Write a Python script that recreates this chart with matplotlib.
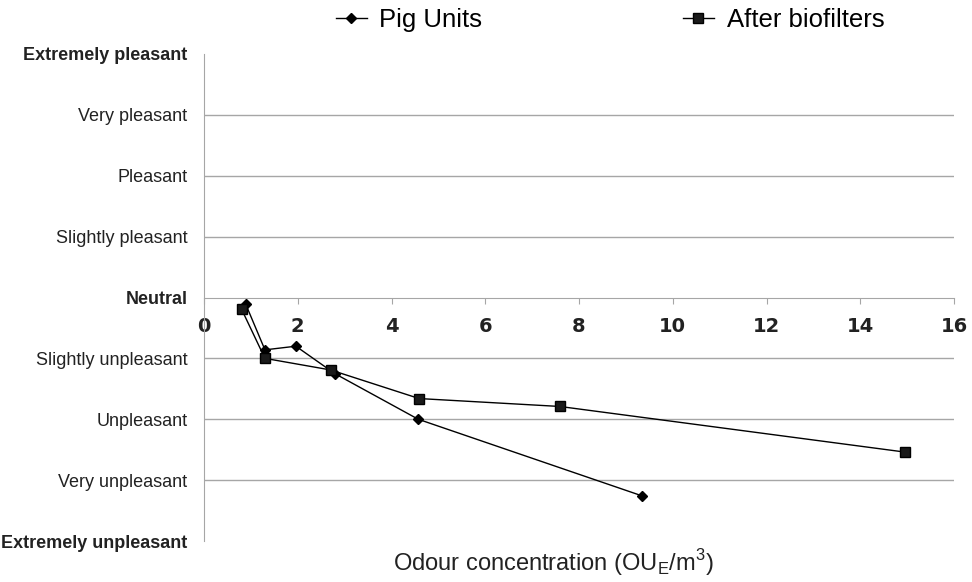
import matplotlib.pyplot as plt
import numpy as np

plt.rcParams['font.family'] = ['Liberation Sans', 'DejaVu Sans']

# odour concentration (OU_E/m3) vs hedonic tone
pig_x = [0.89, 1.30, 1.96, 2.79, 4.57, 9.35]
pig_y = [-0.11, -0.86, -0.80, -1.25, -2.0, -3.26]
bio_x = [0.80, 1.30, 2.70, 4.59, 7.59, 14.96]
bio_y = [-0.19, -1.0, -1.19, -1.66, -1.79, -2.54]

levels = [4, 3, 2, 1, 0, -1, -2, -3, -4]
level_names = ['Extremely pleasant', 'Very pleasant', 'Pleasant', 'Slightly pleasant',
               'Neutral', 'Slightly unpleasant', 'Unpleasant', 'Very unpleasant',
               'Extremely unpleasant']
bold_names = ['Extremely pleasant', 'Neutral', 'Extremely unpleasant']
x_ticks = [0, 2, 4, 6, 8, 10, 12, 14, 16]

fig = plt.figure(figsize=(9.72, 5.82), dpi=100)
ax = fig.add_axes([204/972, 1-541/582, (954-204)/972, (541-54)/582])

# x axis sits on the neutral line (do this first, it resets the ticks)
ax.spines['bottom'].set_position(('data', 0))
ax.spines['bottom'].set_color('#a6a6a6')
ax.spines['left'].set_color('#a6a6a6')
ax.spines['top'].set_visible(False)
ax.spines['right'].set_visible(False)

# gridlines at each level except the extremes and neutral
for lv in levels:
    if lv in (4, 0, -4):
        continue
    ax.axhline(lv, color='#a6a6a6', lw=1.0, zorder=1)

ax.plot(pig_x, pig_y, color='black', lw=1.0, marker='D', ms=5.5,
        markerfacecolor='black', label='Pig Units', zorder=3)
ax.plot(bio_x, bio_y, color='black', lw=1.0, marker='s', ms=7,
        markerfacecolor='#1a1a1a', label='After biofilters', zorder=3)

ax.set_xlim(0, 16)
ax.set_ylim(-4, 4)
ax.tick_params(axis='y', length=0, pad=12)
ax.tick_params(axis='x', direction='out', length=4, color='#a6a6a6', pad=10)
ax.set_xticks(x_ticks)
ax.set_xticklabels([str(t) for t in x_ticks], fontsize=14, fontweight='bold',
                   family='DejaVu Sans', color='#222222')
ax.set_yticks(levels)
ax.set_yticklabels(level_names, fontsize=13, color='#222222')
for lab in ax.get_yticklabels():
    if lab.get_text() in bold_names:
        lab.set_fontweight('bold')

fig.text(553/972, 1-563/582, 'Odour concentration (OU$_\\mathregular{E}$/m$^\\mathregular{3}$)',
         ha='center', va='center', fontsize=17, color='#222222')

fig.legend(loc='center', bbox_to_anchor=(610/972, 1-20/582), ncol=2, frameon=False,
           fontsize=18.5, handlelength=1.2, columnspacing=7.8, handletextpad=0.5)

fig.savefig('out.png', dpi=100)
